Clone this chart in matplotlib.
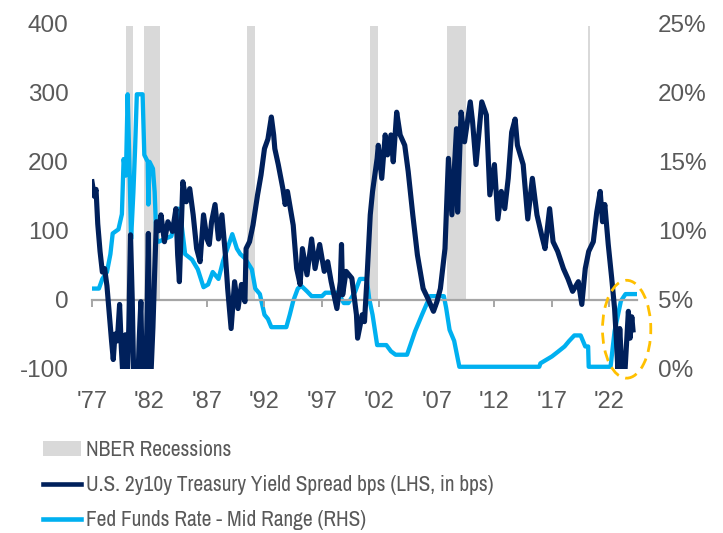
import matplotlib
matplotlib.use("Agg")
import matplotlib.pyplot as plt
from matplotlib.patches import Ellipse, Patch
from matplotlib.lines import Line2D
from matplotlib import font_manager

# ---------------- data ----------------
spread_years = [1977.0, 1977.2, 1977.35, 1977.5, 1977.7, 1977.9, 1978.1, 1978.3, 1978.5, 1978.7,
                1978.85, 1979.0, 1979.2, 1979.4, 1979.55, 1979.7, 1979.9, 1980.05, 1980.2, 1980.35,
                1980.5, 1980.65, 1980.9, 1981.1, 1981.25, 1981.45, 1981.7, 1981.9, 1982.0, 1982.1,
                1982.3, 1982.45, 1982.6, 1982.8, 1983.0, 1983.3, 1983.6, 1984.0, 1984.3, 1984.45,
                1984.6, 1984.9, 1985.2, 1985.5, 1985.8, 1986.1, 1986.4, 1986.7, 1987.0, 1987.2,
                1987.4, 1987.7, 1988.0, 1988.3, 1988.6, 1988.8, 1989.1, 1989.4, 1989.7, 1990.0,
                1990.3, 1990.4, 1990.7, 1991.0, 1991.4, 1991.7, 1992.0, 1992.3, 1992.6, 1992.8,
                1992.9, 1993.2, 1993.6, 1993.8, 1994.0, 1994.5, 1994.8, 1995.1, 1995.3, 1995.7,
                1996.1, 1996.4, 1996.8, 1997.2, 1997.5, 1997.8, 1998.3, 1998.6, 1998.7, 1998.8,
                1999.1, 1999.6, 2000.0, 2000.1, 2000.5, 2000.7, 2000.9, 2001.2, 2001.4, 2001.8,
                2001.9, 2002.2, 2002.5, 2002.7, 2003.0, 2003.2, 2003.5, 2003.8, 2004.2, 2004.5,
                2004.9, 2005.3, 2005.8, 2006.2, 2006.7, 2007.0, 2007.3, 2007.7, 2008.0, 2008.3,
                2008.7, 2008.8, 2009.1, 2009.4, 2009.9, 2010.1, 2010.4, 2010.9, 2011.3, 2011.6,
                2012.0, 2012.3, 2012.6, 2012.9, 2013.2, 2013.5, 2013.8, 2014.0, 2014.5, 2014.9,
                2015.3, 2015.7, 2016.1, 2016.4, 2016.8, 2017.1, 2017.5, 2018.0, 2018.4, 2018.8,
                2019.3, 2019.6, 2019.9, 2020.2, 2020.6, 2020.9, 2021.2, 2021.4, 2021.6, 2021.9,
                2022.2, 2022.45, 2022.6, 2022.75, 2022.9, 2023.1, 2023.35, 2023.5, 2023.65, 2023.8,
                2023.95, 2024.05]
spread_bps = [171, 150, 160, 110, 70, 40, 45, 20, -20, -60,
              -87, -50, -60, -7, -70, -115, -51, -130, -40, 94,
              0, -130, -170, -60, -3, -180, -110, 96, -60, -120,
              -40, 40, 113, 100, 123, 84, 113, 99, 132, 65,
              26, 171, 142, 161, 123, 74, 55, 123, 88, 80,
              113, 138, 88, 123, 65, 16, -42, 26, -13, 22,
              -3, 74, 84, 108, 152, 181, 219, 233, 265, 239,
              219, 196, 161, 138, 157, 108, 45, 22, 74, 36,
              88, 45, 80, 41, 55, 26, -13, 26, 80, 7,
              41, 31, -22, -56, -22, -32, 26, 123, 157, 205,
              224, 176, 239, 210, 239, 200, 272, 239, 224, 186,
              123, 65, 16, 2, -17, -3, 16, 74, 205, 123,
              248, 127, 272, 229, 287, 258, 196, 287, 268, 152,
              196, 117, 157, 132, 176, 243, 262, 224, 196, 117,
              176, 123, 94, 74, 132, 84, 70, 45, 30, 12,
              26, -7, 45, 70, 84, 127, 157, 113, 138, 80,
              31, -13, -56, -105, -42, -105, -105, -60, -17, -56,
              -25, -44]

ff_years = [1977.0, 1977.6, 1977.9, 1978.3, 1978.6, 1978.8, 1979.3, 1979.6, 1979.75, 1979.95,
            1980.1, 1980.25, 1980.4, 1980.6, 1980.75, 1980.9, 1981.4, 1981.55, 1981.85, 1981.9,
            1982.0, 1982.3, 1982.45, 1982.6, 1982.8, 1983.3, 1983.9, 1984.5, 1984.8, 1985.1,
            1985.7, 1986.2, 1986.7, 1987.1, 1987.5, 1988.0, 1988.4, 1988.9, 1989.2, 1989.6,
            1989.9, 1990.3, 1990.9, 1991.2, 1991.6, 1992.0, 1992.3, 1992.6, 1993.9, 1994.2,
            1994.5, 1994.9, 1995.2, 1995.7, 1996.1, 1997.0, 1997.3, 1998.4, 1998.9, 1999.3,
            1999.9, 2000.3, 2000.9, 2001.1, 2001.4, 2001.8, 2002.6, 2003.0, 2003.4, 2004.4,
            2005.1, 2005.7, 2006.4, 2007.6, 2007.8, 2008.1, 2008.5, 2008.95, 2015.9, 2016.0,
            2017.0, 2017.5, 2018.1, 2018.5, 2018.95, 2019.5, 2019.9, 2020.15, 2020.2, 2022.1,
            2022.45, 2023.0, 2023.4, 2024.3]
ff_rate = [5.8, 5.8, 6.5, 7.0, 8.3, 9.8, 10.1, 11.2, 15.2, 14.0,
           19.9, 15.0, 9.4, 12.8, 16.0, 19.9, 19.9, 15.5, 15.0, 11.9,
           15.0, 14.5, 12.8, 9.4, 9.2, 9.4, 9.6, 11.6, 10.4, 8.3,
           7.9, 7.2, 5.9, 6.1, 7.0, 6.5, 7.8, 9.0, 9.75, 8.7,
           8.3, 8.0, 7.2, 5.8, 5.4, 3.9, 3.6, 3.0, 3.0, 3.9,
           4.9, 5.8, 6.0, 5.6, 5.25, 5.25, 5.5, 5.5, 4.75, 4.75,
           5.6, 6.5, 6.5, 5.1, 3.9, 1.7, 1.7, 1.25, 1.0, 1.0,
           2.7, 3.9, 5.25, 5.25, 4.4, 2.8, 2.0, 0.125, 0.125, 0.375,
           0.875, 1.2, 1.6, 2.0, 2.4, 2.4, 1.6, 1.6, 0.125, 0.125,
           2.7, 4.9, 5.4, 5.4]

recession_start = [1980.0, 1981.5, 1990.5, 2001.2, 2007.9, 2020.1]
recession_end = [1980.55, 1982.9, 1991.2, 2001.9, 2009.5, 2020.35]

tick_years = [1977, 1982, 1987, 1992, 1997, 2002, 2007, 2012, 2017, 2022]
tick_labels = ["'77", "'82", "'87", "'92", "'97", "'02", "'07", "'12", "'17", "'22"]
left_ticks = [-100, 0, 100, 200, 300, 400]
right_ticks = [0, 5, 10, 15, 20, 25]
legend_labels = ["NBER Recessions",
                 "U.S. 2y10y Treasury Yield Spread bps (LHS, in bps)",
                 "Fed Funds Rate - Mid Range (RHS)"]

# ---------------- style ----------------
NAVY = "#00205B"
BLUE = "#00B0F0"
REC = "#D9D9D9"
TXT = "#595959"
AXL = "#A6A6A6"

plt.rcParams["axes.unicode_minus"] = False

names = {f.name for f in font_manager.fontManager.ttflist}
tick_font = "Liberation Sans" if "Liberation Sans" in names else "DejaVu Sans"
leg_font = tick_font
for cand in ["Liberation Sans Narrow", "Arial Narrow", "Archivo Narrow", "PT Sans Narrow",
             "Roboto Condensed", "Asap Condensed"]:
    if cand in names:
        leg_font = cand
        break

fig = plt.figure(figsize=(7.23, 5.33), dpi=100)

# fit legend font size so the longest entry spans ~408 px
renderer = fig.canvas.get_renderer()
probe = fig.text(0, 0, legend_labels[1], family=leg_font, size=16)
w = probe.get_window_extent(renderer).width
probe.remove()
leg_size = min(17.0, 16 * 408 / w)

ax = fig.add_axes([92 / 723, 1 - 368.5 / 533, (637 - 92) / 723, (368.5 - 24) / 533])
ax2 = ax.twinx()
ax.set_zorder(ax2.get_zorder() + 1)
ax.patch.set_visible(False)

# recessions and fed funds on right axis (behind)
for s, e in zip(recession_start, recession_end):
    ax2.axvspan(s, e, ymin=0.2, ymax=0.995, color=REC, lw=0, zorder=0)
ax2.plot(ff_years, ff_rate, color=BLUE, lw=3.1, solid_joinstyle="round", zorder=2)

# spread on left axis (front)
ax.plot(spread_years, spread_bps, color=NAVY, lw=3.7, solid_joinstyle="round", zorder=3)

ax.set_xlim(1977.0, 2024.4)
ax.set_ylim(-100, 400)
ax2.set_ylim(0, 25)

# ellipse highlight
ell = Ellipse((2023.5, -43), width=4.2, height=142, fill=False, edgecolor="#FFC000",
              lw=2.0, ls=(0, (4, 2.5)), zorder=5, clip_on=False)
ax.add_patch(ell)

for sp in ["top", "right", "left"]:
    ax.spines[sp].set_visible(False)
    ax2.spines[sp].set_visible(False)
ax2.spines["bottom"].set_visible(False)
ax.spines["bottom"].set_position(("data", 0))
ax.spines["bottom"].set_color(AXL)
ax.spines["bottom"].set_linewidth(1.6)
ax.spines["bottom"].set_zorder(1)

ax2.xaxis.set_visible(True)
ax2.set_xticks(tick_years, tick_labels)
ax.tick_params(axis="x", direction="out", length=5, width=1.4, color=AXL, labelbottom=False)
ax2.tick_params(axis="x", length=0, labelbottom=True, pad=16.5, labelsize=17, labelcolor=TXT)
for t in ax2.get_xticklabels():
    t.set_fontfamily(tick_font)

ax.set_yticks(left_ticks)
ax.tick_params(axis="y", length=0, pad=17, labelsize=17.5, labelcolor=TXT)
ax2.set_yticks(right_ticks, [f"{v}%" for v in right_ticks])
ax2.tick_params(axis="y", length=0, pad=15, labelsize=17.5, labelcolor=TXT)
for t in ax.get_yticklabels() + ax2.get_yticklabels():
    t.set_fontfamily(tick_font)

handles = [Patch(facecolor=REC, edgecolor="none"),
           Line2D([], [], color=NAVY, lw=3.3),
           Line2D([], [], color=BLUE, lw=3.3)]
leg_px = leg_size * 100 / 72
leg = fig.legend(handles, legend_labels, loc="upper left", bbox_to_anchor=(43 / 723, 1 - 440 / 533),
                 frameon=False, borderpad=0, borderaxespad=0, handlelength=38 / leg_px,
                 handleheight=0.65, handletextpad=5 / leg_px, labelspacing=15 / leg_px,
                 prop={"family": leg_font, "size": leg_size})
for t in leg.get_texts():
    t.set_color(TXT)

fig.savefig("out.png", dpi=100)
